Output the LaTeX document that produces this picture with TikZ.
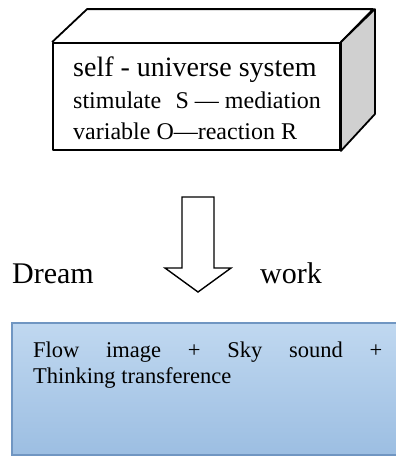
\documentclass[tikz,border=0pt]{standalone}
\usepackage{fontspec}
\setmainfont{Liberation Serif}

\definecolor{sidegray}{RGB}{208,208,208}
\definecolor{flowedge}{RGB}{112,150,194}
\definecolor{flowtop}{RGB}{192,216,240}
\definecolor{flowbot}{RGB}{156,190,226}

\begin{document}
\begin{tikzpicture}[x=1pt,y=-1pt,
    face/.style={draw,line width=1.8pt,line join=round},
    txt/.style={anchor=base west,inner sep=0pt}]

            %\draw [help lines] (0,0) grid (396,456);
            \useasboundingbox (0,0) rectangle (396,456);

            % the box
            \path   (196.5,96.5) node (front) [face,minimum width=287pt,minimum height=107pt] {};
            \draw[face] (front.north west) -- ++(35,-33) -- ++(286,0) -- (front.north east);
            \draw[face,fill=sidegray] (front.north east) -- ++(34,-33) -- ++(0,105) -- (front.south east) -- cycle;

            \path   (73,76)  node (self) [txt,font=\fontsize{28}{30}\selectfont] {self - universe system}
                    (73,108) node (stim) [txt,font=\fontsize{24}{26}\selectfont] {stimulate\hspace{0.6em}S \textemdash{} mediation}
                    (73,139) node (vari) [txt,font=\fontsize{24}{26}\selectfont] {variable O\textemdash reaction R};

            % hollow arrow
            \draw[line width=1.4pt,line join=miter] (182,197) -- (214,197) -- (214,268) -- (231,268)
                    -- (198,292) -- (165,268) -- (182,268) -- cycle;

            \path   (12,283)  node (dream) [txt,font=\fontsize{30}{32}\selectfont] {Dream}
                    (260,283) node (work)  [txt,font=\fontsize{30}{32}\selectfont] {work};

            % the blue box
            \path   (206,389) node (flow) [draw=flowedge,line width=1.5pt,top color=flowtop,bottom color=flowbot,
                        minimum width=388pt,minimum height=132pt] {};
            \path   (33,357) node (flowtxt) [txt,text width=349pt,align=justify,font=\fontsize{22.5}{26}\selectfont]
                        {Flow image + Sky sound +\linebreak Thinking transference};
        \end{tikzpicture}
\end{document}
